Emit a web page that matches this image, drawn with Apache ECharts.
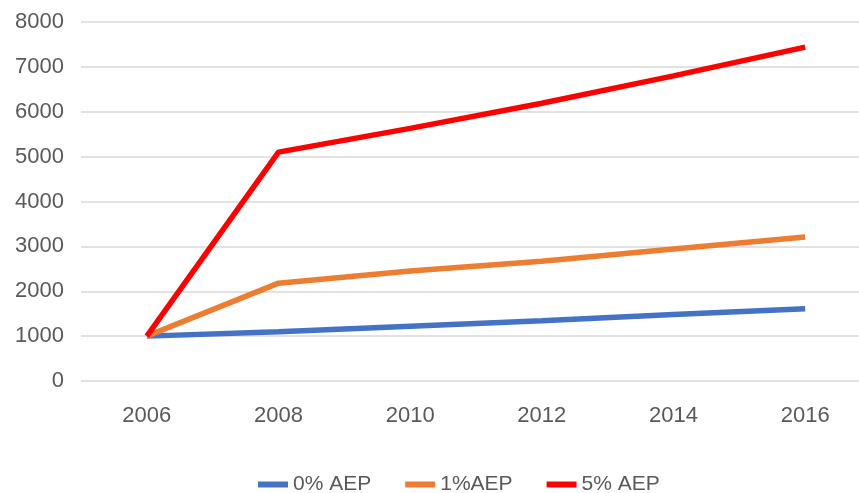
<!DOCTYPE html>
<html>
<head>
<meta charset="utf-8">
<script src="https://cdn.jsdelivr.net/npm/echarts@6/dist/echarts.min.js"></script>
<style>
  html, body { margin: 0; padding: 0; background: #fff; }
  #chart { width: 859px; height: 493px; }
</style>
</head>
<body>
<div id="chart"></div>
<script>
const years = ['2006', '2008', '2010', '2012', '2014', '2016'];
const aep0 = [1000, 1100, 1220, 1340, 1480, 1610];
const aep1 = [1000, 2180, 2450, 2670, 2940, 3210];
const aep5 = [1000, 5100, 5630, 6190, 6800, 7440];
const yTicks = [0, 8000, 1000];

const textColor = '#595959';
const font = 'Liberation Sans';

const chart = echarts.init(document.getElementById('chart'));

function line(name, data, color) {
  return {
    name: name,
    type: 'line',
    data: data,
    symbol: 'none',
    lineStyle: { width: 5.5, color: color },
    itemStyle: { color: color }
  };
}

chart.setOption({
  animation: false,
  grid: {
    left: 81, width: 790, top: 22, bottom: 112,
    containLabel: false, outerBoundsMode: 'none'
  },
  legend: {
    left: 253,
    top: 469,
    icon: 'rect',
    itemWidth: 30,
    itemHeight: 6,
    itemGap: 34,
    textStyle: { color: textColor, fontSize: 21, fontFamily: font },
    data: ['0% AEP', '1%AEP', '5% AEP']
  },
  xAxis: {
    type: 'category',
    data: years,
    boundaryGap: true,
    axisLine: { show: false },
    axisTick: { show: false },
    axisLabel: { color: textColor, fontSize: 22, fontFamily: font, margin: 24 }
  },
  yAxis: {
    type: 'value',
    min: yTicks[0],
    max: yTicks[1],
    interval: yTicks[2],
    axisLine: { show: false },
    axisTick: { show: false },
    axisLabel: {
      color: textColor, fontSize: 22, fontFamily: font, margin: 17,
      formatter: function (v) { return String(v); }
    },
    splitLine: { lineStyle: { color: '#d9d9d9', width: 1.5 } }
  },
  series: [
    line('0% AEP', aep0, '#4472C4'),
    line('1%AEP', aep1, '#ED7D31'),
    line('5% AEP', aep5, '#FF0000')
  ]
});
</script>
</body>
</html>
